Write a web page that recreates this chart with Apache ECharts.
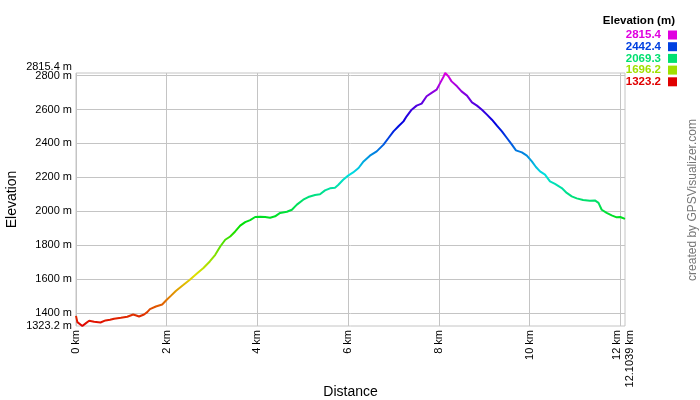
<!DOCTYPE html>
<html>
<head>
<meta charset="utf-8">
<script src="https://cdn.jsdelivr.net/npm/echarts@6/dist/echarts.min.js"></script>
<style>html,body{margin:0;padding:0;background:#fff}#c{width:700px;height:400px}</style>
</head>
<body>
<div id="c"></div>
<script>
const distances = [0, 0.03, 0.14, 0.22, 0.29, 0.40, 0.54, 0.65, 0.75, 0.84, 0.99, 1.13, 1.26, 1.33, 1.39, 1.50, 1.57, 1.63, 1.76, 1.90, 2.00, 2.09, 2.20, 2.37, 2.51, 2.66, 2.81, 2.95, 3.07, 3.18, 3.29, 3.40, 3.51, 3.62, 3.73, 3.84, 3.95, 4.06, 4.17, 4.28, 4.39, 4.50, 4.65, 4.76, 4.87, 5.01, 5.12, 5.27, 5.38, 5.49, 5.60, 5.71, 5.78, 5.89, 6.00, 6.11, 6.23, 6.34, 6.48, 6.63, 6.78, 6.89, 7.00, 7.11, 7.22, 7.29, 7.40, 7.51, 7.62, 7.73, 7.84, 7.95, 8.03, 8.10, 8.14, 8.21, 8.28, 8.40, 8.50, 8.62, 8.73, 8.84, 8.95, 9.06, 9.17, 9.28, 9.39, 9.50, 9.61, 9.70, 9.83, 9.94, 10.05, 10.14, 10.23, 10.34, 10.45, 10.56, 10.71, 10.82, 10.93, 11.04, 11.18, 11.33, 11.44, 11.52, 11.59, 11.70, 11.81, 11.92, 12.00, 12.1039];
const elevations = [1383, 1346, 1323.2, 1340, 1354, 1348, 1344, 1356, 1360, 1366, 1372, 1378, 1391, 1385, 1379, 1391, 1405, 1423, 1438, 1450, 1478, 1501, 1530, 1566, 1596, 1631, 1665, 1704, 1743, 1792, 1832, 1851, 1881, 1915, 1936, 1948, 1966, 1968, 1966, 1962, 1970, 1990, 1997, 2009, 2039, 2068, 2084, 2096, 2100, 2123, 2135, 2139, 2155, 2186, 2210, 2229, 2255, 2294, 2328, 2353, 2393, 2432, 2471, 2501, 2530, 2560, 2599, 2623, 2635, 2678, 2698, 2717, 2757, 2792, 2815.4, 2796, 2766, 2737, 2707, 2682, 2642, 2623, 2599, 2570, 2540, 2505, 2471, 2432, 2393, 2359, 2347, 2328, 2294, 2261, 2235, 2216, 2176, 2161, 2137, 2108, 2088, 2076, 2066, 2062, 2064, 2049, 2009, 1990, 1976, 1964, 1966, 1955];

const yMin = 1323.2, yMax = 2815.4;
const yTickValues = [1400, 1600, 1800, 2000, 2200, 2400, 2600, 2800];
const xMax = 12.1039;
const xTickValues = [0, 2, 4, 6, 8, 10, 12];

const legendTitle = 'Elevation (m)';
const legendValues = ['2815.4', '2442.4', '2069.3', '1696.2', '1323.2'];
const legendColors = ['#e000e0', '#0040e0', '#00e070', '#a0e000', '#e00000'];
const gradientColors = ['#e00000', '#e07000', '#e0e000', '#70e000', '#00e000', '#00e070', '#00e0e0', '#0070e0', '#0000e0', '#7000e0', '#e000e0'];
const credit = 'created by GPSVisualizer.com';

const chart = echarts.init(document.getElementById('c'), null, {renderer: 'canvas'});

const graphic = [];
graphic.push({type: 'text', x: 675, y: 21, style: {text: legendTitle, font: 'bold 11.5px "Liberation Sans", Arial', fill: '#000', textAlign: 'right', textVerticalAlign: 'middle'}});
legendValues.forEach((v, i) => {
  graphic.push({type: 'text', x: 661, y: 35 + i * 11.7, style: {text: v, font: 'bold 11.5px "Liberation Sans", Arial', fill: legendColors[i], textAlign: 'right', textVerticalAlign: 'middle'}});
  graphic.push({type: 'rect', x: 668, y: 30.5 + i * 11.7, shape: {width: 9, height: 9}, style: {fill: legendColors[i]}});
});
graphic.push({type: 'text', x: 693, y: 200, rotation: Math.PI / 2, style: {text: credit, font: '12px "Liberation Sans", Arial', fill: '#777', textAlign: 'center', textVerticalAlign: 'middle'}});

const labelFont = {fontFamily: '"Liberation Sans", Arial', fontSize: 11, color: '#000'};

chart.setOption({
  animation: false,
  backgroundColor: '#fff',
  grid: {left: 76, right: 75, top: 73, bottom: 74, show: true, borderColor: '#c4c4c4', borderWidth: 1, outerBoundsMode: 'none', containLabel: false},
  visualMap: {show: false, type: 'continuous', dimension: 1, seriesIndex: 0, min: yMin, max: yMax, inRange: {color: gradientColors}},
  xAxis: {
    type: 'value', min: 0, max: xMax,
    name: 'Distance', nameLocation: 'middle', nameGap: 59, nameMoveOverlap: false,
    nameTextStyle: {fontFamily: '"Liberation Sans", Arial', fontSize: 14, color: '#000'},
    axisLine: {show: false},
    axisTick: {show: false, customValues: xTickValues},
    splitLine: {show: true, lineStyle: {color: '#c4c4c4', width: 1}},
    axisLabel: Object.assign({
      customValues: xTickValues.concat([xMax]), rotate: 90, margin: 4, hideOverlap: false,
      formatter: v => v === xMax ? '{e|' + v + ' km}' : (v === 12 ? '{t|' + v + ' km}' : v + ' km'),
      rich: {e: {padding: [10, 0, 0, 0], fontSize: 11, color: '#000'}, t: {padding: [0, 0, 6, 0], fontSize: 11, color: '#000'}}
    }, labelFont)
  },
  yAxis: [{
    type: 'value', min: yMin, max: yMax,
    name: 'Elevation', nameLocation: 'middle', nameGap: 57, nameRotate: 90, nameMoveOverlap: false,
    nameTextStyle: {fontFamily: '"Liberation Sans", Arial', fontSize: 14, color: '#000'},
    axisLine: {show: false},
    axisTick: {show: false, customValues: yTickValues},
    splitLine: {show: true, lineStyle: {color: '#c4c4c4', width: 1}},
    axisLabel: Object.assign({customValues: yTickValues, margin: 4, hideOverlap: false, formatter: v => v + ' m'}, labelFont)
  }, {
    type: 'value', min: yMin, max: yMax, position: 'left',
    axisLine: {show: false}, axisTick: {show: false}, splitLine: {show: false},
    axisLabel: Object.assign({
      customValues: [yMin, yMax], margin: 4, hideOverlap: false,
      formatter: v => v === yMax ? '{t|' + v + ' m}' : v + ' m',
      rich: {t: {padding: [0, 0, 12, 0], fontSize: 11, color: '#000'}}
    }, labelFont)
  }],
  graphic: graphic,
  series: [{
    type: 'line', showSymbol: false, symbol: 'none', yAxisIndex: 0,
    lineStyle: {width: 2},
    data: distances.map((d, i) => [d, elevations[i]])
  }]
});
</script>
</body>
</html>
